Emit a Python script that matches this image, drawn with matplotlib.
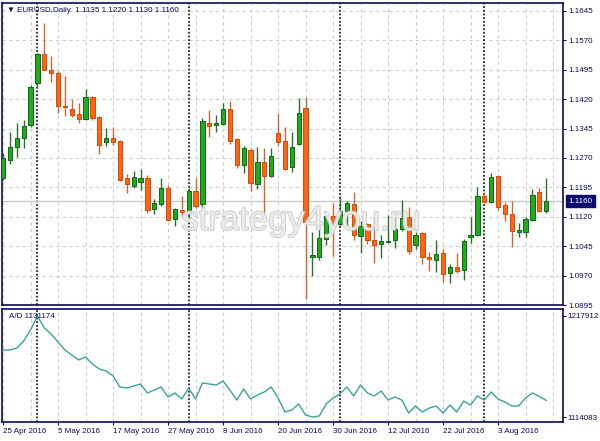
import numpy as np
import matplotlib
matplotlib.use("Agg")
import matplotlib.pyplot as plt
import matplotlib.patheffects as pe

# EURUSD daily bars, 25 Apr 2016 - 12 Aug 2016
opens = [1.1219, 1.1265, 1.1298, 1.1321, 1.1354, 1.1461, 1.1535, 1.1495, 1.1487, 1.1403,
         1.1395, 1.1382, 1.1370, 1.1426, 1.1375, 1.1311, 1.1321, 1.1314, 1.1219, 1.1199,
         1.1209, 1.1219, 1.1140, 1.1153, 1.1194, 1.1115, 1.1138, 1.1130, 1.1186, 1.1153,
         1.1359, 1.1354, 1.1357, 1.1395, 1.1319, 1.1252, 1.1291, 1.1204, 1.1260, 1.1224,
         1.1334, 1.1314, 1.1247, 1.1306, 1.1398, 1.1018, 1.1018, 1.1064, 1.1122, 1.1102,
         1.1135, 1.1153, 1.1071, 1.1102, 1.1061, 1.1051, 1.1056, 1.1061, 1.1089, 1.1120,
         1.1048, 1.1079, 1.1018, 1.1010, 1.1028, 1.0977, 1.0992, 1.0985, 1.1069, 1.1074,
         1.1173, 1.1158, 1.1224, 1.1150, 1.1127, 1.1082, 1.1082, 1.1112, 1.1184, 1.1135]
highs = [1.1283, 1.1337, 1.1359, 1.1367, 1.1456, 1.1538, 1.1614, 1.1530, 1.1492, 1.1479,
         1.1421, 1.1410, 1.1446, 1.1428, 1.1377, 1.1347, 1.1349, 1.1316, 1.1229, 1.1237,
         1.1242, 1.1227, 1.1166, 1.1219, 1.1201, 1.1143, 1.1173, 1.1194, 1.1219, 1.1372,
         1.1393, 1.1380, 1.1410, 1.1416, 1.1321, 1.1301, 1.1296, 1.1298, 1.1296, 1.1296,
         1.1385, 1.1349, 1.1337, 1.1423, 1.1426, 1.1082, 1.1110, 1.1127, 1.1155, 1.1173,
         1.1161, 1.1184, 1.1110, 1.1104, 1.1120, 1.1074, 1.1125, 1.1120, 1.1163, 1.1145,
         1.1082, 1.1082, 1.1031, 1.1061, 1.1038, 1.1000, 1.1028, 1.1064, 1.1120, 1.1196,
         1.1184, 1.1232, 1.1227, 1.1158, 1.1161, 1.1104, 1.1120, 1.1191, 1.1194, 1.1220]
lows = [1.1214, 1.1255, 1.1273, 1.1296, 1.1349, 1.1449, 1.1495, 1.1464, 1.1385, 1.1377,
        1.1375, 1.1359, 1.1367, 1.1367, 1.1280, 1.1301, 1.1303, 1.1212, 1.1181, 1.1194,
        1.1189, 1.1130, 1.1127, 1.1148, 1.1110, 1.1097, 1.1120, 1.1115, 1.1143, 1.1138,
        1.1324, 1.1337, 1.1354, 1.1306, 1.1245, 1.1232, 1.1186, 1.1191, 1.1130, 1.1222,
        1.1301, 1.1240, 1.1235, 1.1303, 1.0911, 1.0969, 1.1010, 1.1048, 1.1020, 1.1097,
        1.1097, 1.1061, 1.1028, 1.1051, 1.1002, 1.1015, 1.1053, 1.1041, 1.1084, 1.1025,
        1.1038, 1.1000, 1.0982, 1.0980, 1.0954, 1.0951, 1.0977, 1.0959, 1.1053, 1.1071,
        1.1155, 1.1155, 1.1138, 1.1110, 1.1043, 1.1069, 1.1069, 1.1110, 1.1133, 1.1130]
closes = [1.1270, 1.1298, 1.1321, 1.1352, 1.1451, 1.1535, 1.1495, 1.1487, 1.1403, 1.1400,
          1.1380, 1.1370, 1.1426, 1.1372, 1.1303, 1.1321, 1.1311, 1.1214, 1.1204, 1.1222,
          1.1219, 1.1138, 1.1155, 1.1194, 1.1112, 1.1140, 1.1133, 1.1186, 1.1148, 1.1365,
          1.1352, 1.1359, 1.1395, 1.1314, 1.1252, 1.1296, 1.1206, 1.1260, 1.1224, 1.1275,
          1.1311, 1.1242, 1.1298, 1.1385, 1.1107, 1.1023, 1.1066, 1.1122, 1.1104, 1.1135,
          1.1155, 1.1074, 1.1097, 1.1061, 1.1048, 1.1059, 1.1059, 1.1089, 1.1117, 1.1033,
          1.1074, 1.1018, 1.1013, 1.1025, 1.0974, 1.0992, 1.0982, 1.1059, 1.1074, 1.1173,
          1.1158, 1.1222, 1.1145, 1.1127, 1.1084, 1.1087, 1.1115, 1.1176, 1.1135, 1.1160]

# Accumulation/Distribution indicator
ad = [1182959, 1182959, 1185015, 1192211, 1203519, 1217912, 1205575, 1199407, 1191183, 1182959,
      1177819, 1172679, 1175763, 1168567, 1163427, 1161371, 1156231, 1144923, 1143895, 1145951,
      1148007, 1138755, 1141839, 1144923, 1134643, 1138755, 1132587, 1143895, 1132587, 1149035,
      1148007, 1146979, 1151091, 1141839, 1131559, 1142867, 1132587, 1136699, 1139783, 1144923,
      1133615, 1119223, 1121279, 1127447, 1116139, 1114083, 1115111, 1127447, 1133615, 1137727,
      1144923, 1135671, 1146979, 1138755, 1135671, 1140811, 1131559, 1134643, 1131559, 1118195,
      1125391, 1119223, 1123335, 1125391, 1118195, 1126419, 1119223, 1130531, 1126419, 1135671,
      1131559, 1139783, 1132587, 1129503, 1125391, 1125391, 1133615, 1138755, 1135200, 1131174]

price_ticks = [1.0895, 1.0970, 1.1045, 1.1120, 1.1195, 1.1270, 1.1345, 1.1420, 1.1495, 1.1570, 1.1645]
ad_ticks = [1114083, 1217912]
date_pos = [0, 8, 16, 24, 32, 40, 48, 56, 64, 72]
date_labels = ['25 Apr 2016', '5 May 2016', '17 May 2016', '27 May 2016', '8 Jun 2016',
               '20 Jun 2016', '30 Jun 2016', '12 Jul 2016', '22 Jul 2016', '3 Aug 2016']
month_starts = [5, 27, 49, 70]

navy = '#0a0a5e'
fs = 5.8
plt.rcParams['font.family'] = ['Liberation Sans', 'DejaVu Sans']

W, H = 600, 441


def rect(x0, y0, x1, y1):
    return [x0 / W, 1 - y1 / H, (x1 - x0) / W, (y1 - y0) / H]


fig = plt.figure(figsize=(6, 4.41), dpi=100)
ax = fig.add_axes(rect(2, 3, 563, 305))
ax2 = fig.add_axes(rect(2, 309, 563, 422))

o = np.array(opens)
h = np.array(highs)
l = np.array(lows)
c = np.array(closes)
x = np.arange(len(o))
xlim = (-0.15, 81.45)

# grid + month separators
for a in (ax, ax2):
    for g in range(0, 84, 4):
        a.axvline(g, color='#cdcdcd', lw=0.8, ls=(0, (3, 3)), zorder=0)
    for m in month_starts:
        a.axvline(m, color='black', lw=1.1, ls=(0, (1.2, 1.2)), zorder=1)
    a.set_xlim(*xlim)
    for s in a.spines.values():
        s.set_color(navy)
        s.set_linewidth(1.2)
for p in price_ticks:
    ax.axhline(p, color='#cdcdcd', lw=0.8, ls=(0, (3, 3)), zorder=0)

# current price line
ax.axhline(closes[-1], color='#c8c8c8', lw=1.0, zorder=1)

# candles
up = c >= o
face = np.where(up, '#1faa1f', '#ff6414')
edge = np.where(up, '#126812', '#d24c0a')
wick = np.where(up, '#2c6e2c', '#cd6630')
ax.vlines(x, l, h, colors=wick, lw=1.0, zorder=2)
bottom = np.minimum(o, c)
height = np.maximum(np.abs(c - o), 0.00025)
ax.bar(x, height, bottom=bottom, width=0.62, color=face, edgecolor=edge, lw=0.7, zorder=3)

ax.set_ylim(1.0895, 1.16654)
ax.yaxis.tick_right()
ax.set_yticks(price_ticks)
ax.set_yticklabels([f'{p:.4f}' for p in price_ticks])
ax.tick_params(axis='y', length=2.2, width=0.8, color=navy, labelcolor=navy, labelsize=fs, pad=1.5)
ax.tick_params(axis='x', bottom=False, labelbottom=False)

ax.annotate(f'{closes[-1]:.4f}', xy=(1, closes[-1]), xycoords=('axes fraction', 'data'),
            xytext=(4, 0), textcoords='offset points', va='center', ha='left',
            fontsize=fs, color='white',
            bbox=dict(boxstyle='square,pad=0.3', fc='#0a0a70', ec='#0a0a70'))

fig.text(7 / W, 1 - 11 / H, '\u25bc EURUSD,Daily  ' +
         f'{opens[-1]:.4f} {highs[-1]:.4f} {lows[-1]:.4f} {closes[-1]:.4f}',
         fontsize=fs, color=navy, va='center', ha='left')

# watermark
fig.text(301 / W, 1 - 230 / H, 'strategy4you.ru', fontsize=25, color='#f0f0f0',
         ha='center', va='baseline', alpha=0.75, zorder=10,
         path_effects=[pe.withStroke(linewidth=1.3, foreground='#c2c2c2')])

# A/D panel
ax2.plot(x, ad, color='#3aa39c', lw=1.0, zorder=3)
ax2.set_ylim(1114083 - 5 * 1028, 1217912 + 7 * 1028)
ax2.yaxis.tick_right()
ax2.set_yticks(ad_ticks)
ax2.set_yticklabels([str(v) for v in ad_ticks])
ax2.tick_params(axis='y', length=2.2, width=0.8, color=navy, labelcolor=navy, labelsize=fs, pad=1.2)
ax2.set_xticks(date_pos)
ax2.set_xticklabels(date_labels, ha='left')
ax2.tick_params(axis='x', length=2.5, width=0.8, color=navy, labelcolor=navy, labelsize=fs, pad=1.5)
ax2.text(7 / 561, 1 - 8 / 113, f'A/D {ad[-1]}', transform=ax2.transAxes,
         fontsize=fs, color=navy, va='center', ha='left', zorder=5)

fig.savefig('out.png', dpi=100, facecolor='white')
